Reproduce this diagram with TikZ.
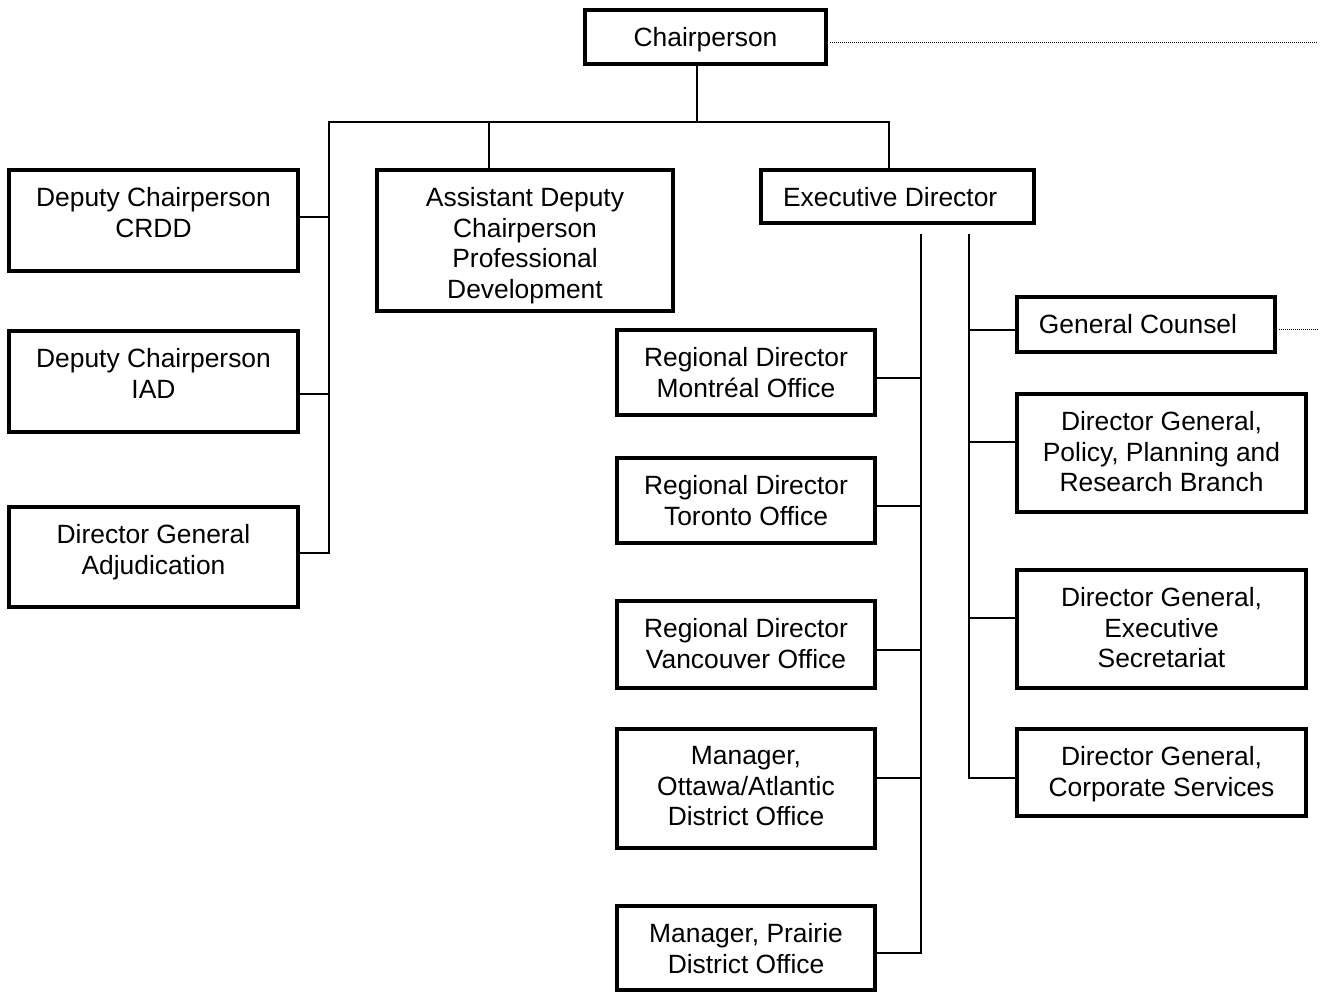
\documentclass[tikz,border=0pt]{standalone}
\usepackage{fontspec}
\setmainfont{Liberation Sans}

\tikzset{every picture/.style={line width=0.75pt}}
\tikzset{
	orgbox/.style={draw, rectangle, line width=2.8pt, inner sep=0pt, outer sep=0pt},
	boxtext/.style={anchor=north, inner sep=0pt, align=center, font=\fontsize{19.8pt}{22.9pt}\selectfont},
	link/.style={line width=1.1pt},
	dotlink/.style={line width=0.75pt, dash pattern=on 0.75pt off 0.75pt, shorten <=3pt}
}

\begin{document}
\begin{tikzpicture}[x=0.75pt,y=0.75pt,yscale=-1,xscale=1]
		\useasboundingbox (0,0) rectangle (1320,992);
		
		%Boxes
		\node[orgbox, minimum width=180.75pt, minimum height=40.5pt] (chair) at (705.5,37) {};
		\node[orgbox, minimum width=216.75pt, minimum height=75.75pt] (crdd) at (153.5,220.5) {};
		\node[orgbox, minimum width=216.75pt, minimum height=75.75pt] (iad) at (153.5,381.5) {};
		\node[orgbox, minimum width=216.75pt, minimum height=75pt] (adj) at (153.5,557) {};
		\node[orgbox, minimum width=222pt, minimum height=105.75pt] (adc) at (525,240.5) {};
		\node[orgbox, minimum width=204.75pt, minimum height=39.75pt] (exec) at (897.5,196.5) {};
		\node[orgbox, minimum width=193.5pt, minimum height=63.75pt] (mtl) at (746,372.5) {};
		\node[orgbox, minimum width=193.5pt, minimum height=63.75pt] (tor) at (746,500.5) {};
		\node[orgbox, minimum width=193.5pt, minimum height=65.25pt] (van) at (746,644.5) {};
		\node[orgbox, minimum width=193.5pt, minimum height=89.25pt] (ott) at (746,788.5) {};
		\node[orgbox, minimum width=193.5pt, minimum height=63pt] (pra) at (746,948) {};
		\node[orgbox, minimum width=193.5pt, minimum height=41.25pt] (gc) at (1146,324.5) {};
		\node[orgbox, minimum width=216.75pt, minimum height=88.5pt] (pol) at (1161.5,453) {};
		\node[orgbox, minimum width=216.75pt, minimum height=88.5pt] (sec) at (1161.5,629) {};
		\node[orgbox, minimum width=216.75pt, minimum height=65.25pt] (corp) at (1161.5,772.5) {};
		
		%Box texts (yscale=-1, so a positive yshift goes down)
		\node[boxtext] (chair-t) at ([yshift=12.7pt]chair.north) {Chairperson};
		\node[boxtext] (crdd-t) at ([yshift=12.7pt]crdd.north) {Deputy Chairperson\\CRDD};
		\node[boxtext] (iad-t) at ([yshift=12.7pt]iad.north) {Deputy Chairperson\\IAD};
		\node[boxtext] (adj-t) at ([yshift=12.7pt]adj.north) {Director General\\Adjudication};
		\node[boxtext] (adc-t) at ([yshift=12.7pt]adc.north) {Assistant Deputy\\Chairperson\\Professional\\Development};
		\node[boxtext] (exec-t) at ([xshift=-5.5pt,yshift=12.7pt]exec.north) {Executive Director};
		\node[boxtext] (mtl-t) at ([yshift=12.7pt]mtl.north) {Regional Director\\Montréal Office};
		\node[boxtext] (tor-t) at ([yshift=12.7pt]tor.north) {Regional Director\\Toronto Office};
		\node[boxtext] (van-t) at ([yshift=12.7pt]van.north) {Regional Director\\Vancouver Office};
		\node[boxtext] (ott-t) at ([yshift=12.7pt]ott.north) {Manager,\\Ottawa/Atlantic\\District Office};
		\node[boxtext] (pra-t) at ([yshift=12.7pt]pra.north) {Manager, Prairie\\District Office};
		\node[boxtext] (gc-t) at ([xshift=-6pt,yshift=12.7pt]gc.north) {General Counsel};
		\node[boxtext] (pol-t) at ([yshift=12.7pt]pol.north) {Director General,\\Policy, Planning and\\Research Branch};
		\node[boxtext] (sec-t) at ([yshift=12.7pt]sec.north) {Director General,\\Executive\\Secretariat};
		\node[boxtext] (corp-t) at ([yshift=12.7pt]corp.north) {Director General,\\Corporate Services};
		
		%Junction points
		\coordinate (hub) at (697,122);
		\coordinate (bar-l) at (329,122);
		\coordinate (bar-r) at (889,122);
		\coordinate (adc-in) at (489,122);
		\coordinate (crdd-tap) at (329,217);
		\coordinate (iad-tap) at (329,394);
		\coordinate (adj-tap) at (329,553);
		\coordinate (ed-l) at (921,234);
		\coordinate (ed-r) at (969,234);
		\coordinate (mtl-tap) at (921,378);
		\coordinate (tor-tap) at (921,506);
		\coordinate (van-tap) at (921,650);
		\coordinate (ott-tap) at (921,778);
		\coordinate (pra-tap) at (921,953);
		\coordinate (gc-tap) at (969,330);
		\coordinate (pol-tap) at (969,442);
		\coordinate (sec-tap) at (969,618);
		\coordinate (corp-tap) at (969,778);
		\coordinate (chair-dot) at (1318,42);
		\coordinate (gc-dot) at (1318,329);
		
		%Connectors
		\draw[link] (chair.south -| hub) -- (hub);
		\draw[link] (bar-r |- exec.north) -- (bar-r) -- (bar-l) -- (adj-tap) -- (adj-tap -| adj.east);
		\draw[link] (adc-in) -- (adc-in |- adc.north);
		\draw[link] (crdd-tap) -- (crdd-tap -| crdd.east);
		\draw[link] (iad-tap) -- (iad-tap -| iad.east);
		
		\draw[link] (ed-l) -- (pra-tap) -- (pra-tap -| pra.east);
		\draw[link] (mtl-tap) -- (mtl-tap -| mtl.east);
		\draw[link] (tor-tap) -- (tor-tap -| tor.east);
		\draw[link] (van-tap) -- (van-tap -| van.east);
		\draw[link] (ott-tap) -- (ott-tap -| ott.east);
		
		\draw[link] (ed-r) -- (corp-tap) -- (corp-tap -| corp.west);
		\draw[link] (gc-tap) -- (gc-tap -| gc.west);
		\draw[link] (pol-tap) -- (pol-tap -| pol.west);
		\draw[link] (sec-tap) -- (sec-tap -| sec.west);
		
		\draw[dotlink] (chair.east |- chair-dot) -- (chair-dot);
		\draw[dotlink] (gc.east |- gc-dot) -- (gc-dot);
		
	\end{tikzpicture}
\end{document}
